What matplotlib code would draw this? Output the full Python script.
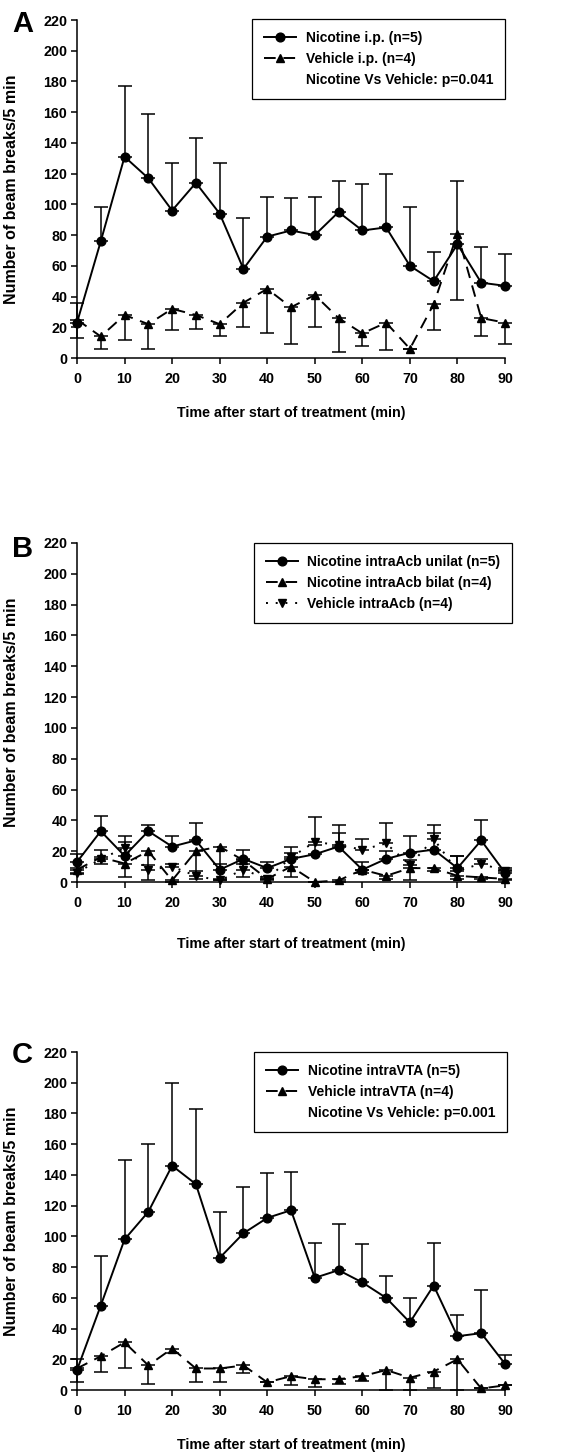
import numpy as np
import matplotlib
matplotlib.use('Agg')
import matplotlib.pyplot as plt
from matplotlib.lines import Line2D

plt.rcParams['font.family'] = ['Liberation Sans', 'DejaVu Sans']
plt.rcParams['font.weight'] = 'bold'

time = np.arange(0, 95, 5)

# panel A: i.p.
nic_ip = [23, 76, 131, 117, 96, 114, 94, 58, 79, 83, 80, 95, 83, 85, 60, 50, 74, 49, 47]
nic_ip_err = [13, 22, 46, 42, 31, 29, 33, 33, 26, 21, 25, 20, 30, 35, 38, 19, 41, 23, 21]
veh_ip = [25, 14, 28, 22, 32, 28, 22, 36, 45, 33, 41, 26, 16, 23, 6, 35, 81, 26, 23]
veh_ip_err = [12, 8, 16, 16, 14, 9, 8, 16, 29, 24, 21, 22, 8, 18, 0, 17, 43, 12, 14]

# panel B: intraAcb
uni_acb = [13, 33, 17, 33, 23, 27, 8, 15, 9, 15, 18, 23, 8, 15, 19, 21, 9, 27, 6]
uni_acb_err = [5, 10, 9, 4, 7, 11, 4, 6, 4, 8, 6, 14, 5, 5, 11, 11, 8, 13, 3]
bil_acb = [8, 16, 12, 20, 1, 20, 23, 14, 2, 10, 0, 1, 8, 4, 9, 9, 4, 3, 2]
bil_acb_err = [3, 4, 9, 19, 1, 18, 22, 11, 1, 7, 0, 1, 2, 2, 8, 2, 2, 1, 1]
veh_acb = [6, 15, 22, 8, 10, 4, 1, 8, 2, 16, 26, 24, 21, 25, 11, 28, 7, 12, 7]
veh_acb_err = [3, 6, 8, 3, 2, 3, 1, 4, 1, 3, 16, 8, 7, 13, 3, 9, 10, 3, 1]

# panel C: intraVTA
nic_vta = [13, 55, 98, 116, 146, 134, 86, 102, 112, 117, 73, 78, 70, 60, 44, 68, 35, 37, 17]
nic_vta_err = [7, 32, 52, 44, 54, 49, 30, 30, 29, 25, 23, 30, 25, 14, 16, 28, 14, 28, 6]
veh_vta = [14, 22, 31, 16, 27, 14, 14, 16, 5, 9, 7, 7, 9, 13, 8, 12, 20, 1, 3]
veh_vta_err = [9, 10, 17, 12, 3, 9, 9, 5, 0, 6, 5, 3, 3, 13, 8, 11, 20, 0, 0]

W, H = 586, 1452
fig = plt.figure(figsize=(W / 100, H / 100), dpi=100)

def make_axes(top_px, bottom_px):
    ax = fig.add_axes([77 / W, 1 - bottom_px / H, 428 / W, (bottom_px - top_px) / H])
    ax.set_xlim(0, 90)
    ax.set_ylim(0, 220)
    ax.set_xticks(range(0, 100, 10))
    ax.set_yticks(range(0, 240, 20))
    for s in ['top', 'right']:
        ax.spines[s].set_visible(False)
    for s in ['left', 'bottom']:
        ax.spines[s].set_linewidth(1.1)
    ax.tick_params(direction='out', length=4, width=1.1, labelsize=10.3)
    ax.tick_params(axis='x', pad=6)
    ax.tick_params(axis='y', pad=3)
    ax.set_ylabel('Number of beam breaks/5 min', fontsize=11.5, fontweight='bold')
    ax.yaxis.set_label_coords(-0.135, 0.5)
    ax.set_xlabel('Time after start of treatment (min)', fontsize=10.3, fontweight='bold')
    return ax

def series(ax, y, err, up, marker, dashes, ms):
    yerr = [np.zeros(len(err)), err] if up else [err, np.zeros(len(err))]
    ax.errorbar(time, y, yerr=yerr, fmt='none', ecolor='black', elinewidth=1.1,
                capsize=5, capthick=1.1, clip_on=False)
    ln, = ax.plot(time, y, color='black', lw=1.4, marker=marker, ms=ms, clip_on=False)
    if dashes is not None:
        ln.set_dashes(dashes)
    return ln

def legend(ax, handles, labels, anchor):
    leg = ax.legend(handles, labels, loc='upper right', bbox_to_anchor=anchor,
                    borderaxespad=0, fancybox=False, framealpha=1, edgecolor='black',
                    fontsize=10, handlelength=2.3, handletextpad=0.7, borderpad=0.85,
                    labelspacing=0.52)
    leg.get_frame().set_linewidth(0.9)

# ---- A
axA = make_axes(20, 358)
hA1 = series(axA, nic_ip, nic_ip_err, True, 'o', None, 6.3)
hA2 = series(axA, veh_ip, veh_ip_err, False, '^', (6, 4), 5.8)
axA.xaxis.set_label_coords(0.5, -0.142)
blank = Line2D([], [], linestyle='none')
legend(axA, [hA1, hA2, blank],
       ['Nicotine i.p. (n=5)', 'Vehicle i.p. (n=4)', 'Nicotine Vs Vehicle: p=0.041'], (1.0, 1.003))

# ---- B
axB = make_axes(543, 882)
hB1 = series(axB, uni_acb, uni_acb_err, True, 'o', None, 6.3)
hB2 = series(axB, bil_acb, bil_acb_err, False, '^', (6, 4), 5.8)
hB3 = series(axB, veh_acb, veh_acb_err, True, 'v', (1, 4), 5.8)
axB.xaxis.set_label_coords(0.5, -0.162)
legend(axB, [hB1, hB2, hB3],
       ['Nicotine intraAcb unilat (n=5)', 'Nicotine intraAcb bilat (n=4)', 'Vehicle intraAcb (n=4)'],
       (1.017, 1.0))

# ---- C
axC = make_axes(1052, 1390)
hC1 = series(axC, nic_vta, nic_vta_err, True, 'o', None, 6.3)
hC2 = series(axC, veh_vta, veh_vta_err, False, '^', (6, 4), 5.8)
axC.xaxis.set_label_coords(0.5, -0.142)
legend(axC, [hC1, hC2, blank],
       ['Nicotine intraVTA (n=5)', 'Vehicle intraVTA (n=4)', 'Nicotine Vs Vehicle: p=0.001'], (1.005, 1.0))

for letter, ybase in [('A', 32), ('B', 557), ('C', 1063)]:
    fig.text(12 / W, 1 - ybase / H, letter, fontsize=21, fontweight='bold', va='baseline', ha='left')

fig.savefig('out.png', dpi=100)
